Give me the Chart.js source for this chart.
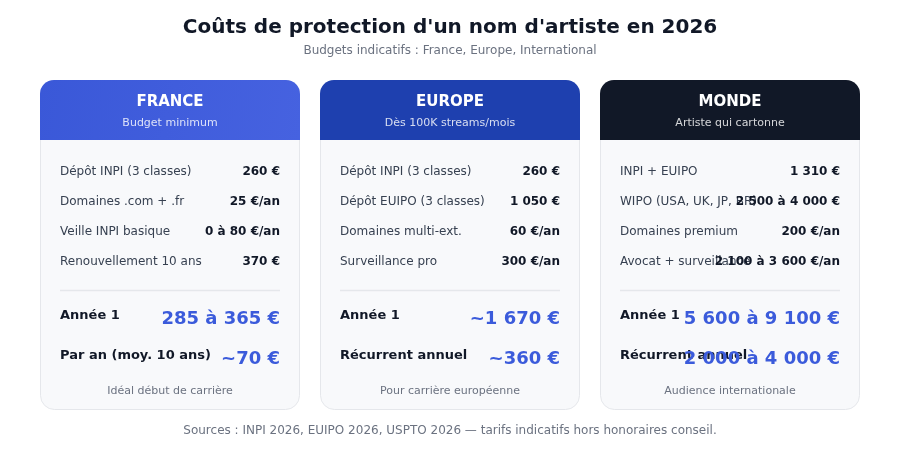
<!DOCTYPE html>
<html>
<head>
<meta charset="utf-8">
<script src="https://cdn.jsdelivr.net/npm/chart.js@4.4.1/dist/chart.umd.min.js"></script>
<style>
  html, body { margin: 0; padding: 0; background: #ffffff; }
  #wrap { width: 900px; height: 450px; }
</style>
</head>
<body>
<div id="wrap"><canvas id="costsChart" width="900" height="450"></canvas></div>
<script>
// données des trois cartes
const regions = ['FRANCE', 'EUROPE', 'MONDE'];
const taglines = ['Budget minimum', 'Dès 100K streams/mois', 'Artiste qui cartonne'];
const headerColors = ['#3b5bdb', '#1e40af', '#111827'];

const franceItems = ['Dépôt INPI (3 classes)', 'Domaines .com + .fr', 'Veille INPI basique', 'Renouvellement 10 ans'];
const franceCosts = ['260 €', '25 €/an', '0 à 80 €/an', '370 €'];
const europeItems = ['Dépôt INPI (3 classes)', 'Dépôt EUIPO (3 classes)', 'Domaines multi-ext.', 'Surveillance pro'];
const europeCosts = ['260 €', '1 050 €', '60 €/an', '300 €/an'];
const mondeItems = ['INPI + EUIPO', 'WIPO (USA, UK, JP, BR)', 'Domaines premium', 'Avocat + surveillance'];
const mondeCosts = ['1 310 €', '2 500 à 4 000 €', '200 €/an', '2 100 à 3 600 €/an'];

const totalLabels = [
    ['Année 1', 'Par an (moy. 10 ans)'],
    ['Année 1', 'Récurrent annuel'],
    ['Année 1', 'Récurrent annuel'],
];
const totalCosts = [
    ['285 à 365 €', '~70 €'],
    ['~1 670 €', '~360 €'],
    ['5 600 à 9 100 €', '2 000 à 4 000 €'],
];
const notes = ['Idéal début de carrière', 'Pour carrière européenne', 'Audience internationale'];
const sourceLine = 'Sources : INPI 2026, EUIPO 2026, USPTO 2026 — tarifs indicatifs hors honoraires conseil.';

const items = [franceItems, europeItems, mondeItems];
const costs = [franceCosts, europeCosts, mondeCosts];

const FONT = '"DejaVu Sans", sans-serif';
Chart.defaults.font.family = FONT;

// dessine les cartes par-dessus un graphique vide
const cardsPlugin = {
    id: 'cards',
    afterDraw(chart) {
        const ctx = chart.ctx;
        ctx.save();
        regions.forEach((region, i) => {
            const x = 40 + i * 280, y = 80, w = 260, h = 330;

            // corps de carte
            ctx.beginPath();
            ctx.roundRect(x + 0.5, y + 0.5, w - 1, h - 1, 14);
            ctx.fillStyle = '#f8f9fb';
            ctx.fill();
            ctx.strokeStyle = '#e5e7eb';
            ctx.lineWidth = 1;
            ctx.stroke();

            // en-tête
            let fill = headerColors[i];
            if (i === 0) {
                fill = ctx.createLinearGradient(x, y, x + w, y + 60);
                fill.addColorStop(0, '#3a58d8');
                fill.addColorStop(1, '#4662e0');
            }
            ctx.beginPath();
            ctx.roundRect(x, y, w, 60, [14, 14, 0, 0]);
            ctx.fillStyle = fill;
            ctx.fill();

            ctx.textAlign = 'center';
            ctx.textBaseline = 'middle';
            ctx.fillStyle = '#ffffff';
            ctx.font = 'bold 15px ' + FONT;
            ctx.fillText(region, x + w / 2, y + 22);
            ctx.fillStyle = 'rgba(255,255,255,0.82)';
            ctx.font = '11px ' + FONT;
            ctx.fillText(taglines[i], x + w / 2, y + 43);

            // lignes de coûts
            items[i].forEach((label, j) => {
                const ly = 172 + j * 30;
                ctx.textAlign = 'left';
                ctx.fillStyle = '#374151';
                ctx.font = '12px ' + FONT;
                ctx.fillText(label, x + 20, ly);
                ctx.textAlign = 'right';
                ctx.fillStyle = '#111827';
                ctx.font = 'bold 12px ' + FONT;
                ctx.fillText(costs[i][j], x + w - 20, ly);
            });

            // séparateur
            ctx.beginPath();
            ctx.moveTo(x + 20, 290.5);
            ctx.lineTo(x + w - 20, 290.5);
            ctx.strokeStyle = '#e5e7eb';
            ctx.lineWidth = 1.5;
            ctx.stroke();

            // totaux
            totalLabels[i].forEach((label, j) => {
                const ty = 316 + j * 40;
                ctx.textAlign = 'left';
                ctx.fillStyle = '#111827';
                ctx.font = 'bold 13px ' + FONT;
                ctx.fillText(label, x + 20, ty);
                ctx.textAlign = 'right';
                ctx.fillStyle = '#3b5bdb';
                ctx.font = 'bold 18px ' + FONT;
                ctx.fillText(totalCosts[i][j], x + w - 20, ty + 3);
            });

            ctx.textAlign = 'center';
            ctx.fillStyle = '#6b7280';
            ctx.font = '11px ' + FONT;
            ctx.fillText(notes[i], x + w / 2, 391);
        });

        ctx.textAlign = 'center';
        ctx.textBaseline = 'middle';
        ctx.fillStyle = '#6b7280';
        ctx.font = '12px ' + FONT;
        ctx.fillText(sourceLine, 450, 431);
        ctx.restore();
    }
};

new Chart(document.getElementById('costsChart'), {
    type: 'bar',
    data: {
        labels: regions,
        datasets: []
    },
    options: {
        responsive: false,
        animation: false,
        devicePixelRatio: 1,
        events: [],
        scales: {
            x: { display: false },
            y: { display: false }
        },
        plugins: {
            legend: { display: false },
            tooltip: { enabled: false },
            title: {
                display: true,
                text: "Coûts de protection d'un nom d'artiste en 2026",
                color: '#111827',
                font: { size: 20, weight: 'bold' },
                padding: { top: 16, bottom: 4 }
            },
            subtitle: {
                display: true,
                text: 'Budgets indicatifs : France, Europe, International',
                color: '#6b7280',
                font: { size: 12 },
                padding: { top: 0, bottom: 10 }
            }
        }
    },
    plugins: [cardsPlugin]
});
</script>
</body>
</html>
